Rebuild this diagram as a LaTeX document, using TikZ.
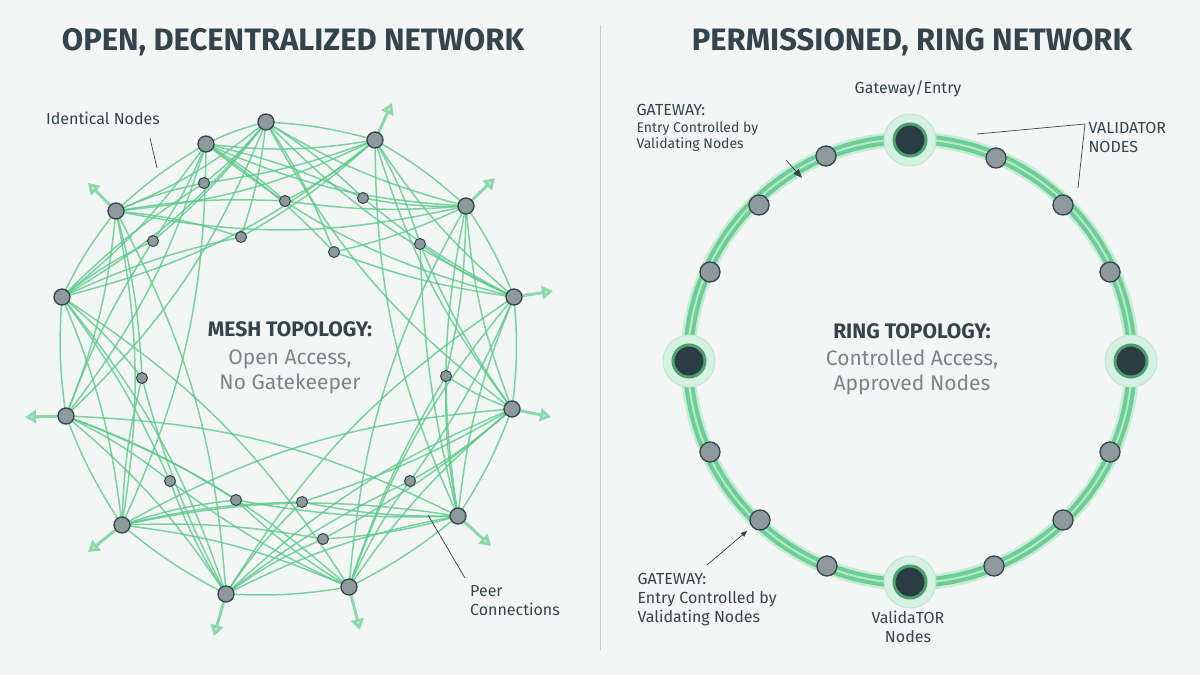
\documentclass[tikz,border=0pt]{standalone}
\usepackage{fontspec}
\setmainfont{Fira Sans}
\usetikzlibrary{arrows.meta}
\definecolor{bg}{HTML}{F3F6F5}
\definecolor{ink}{HTML}{34444C}
\definecolor{gtx}{HTML}{7B8589}
\definecolor{edge}{HTML}{5CC98A}
\definecolor{nodef}{HTML}{8E999E}
\definecolor{dark}{HTML}{2C3C43}
\begin{document}
\begin{tikzpicture}[x=1pt,y=-1pt,
  edg/.style={edge,line width=1.5pt,opacity=0.8},
  outn/.style={circle,draw=ink,line width=1.3pt,fill=nodef,minimum size=16pt,inner sep=0},
  inn/.style={circle,draw=ink,line width=1pt,fill=nodef,minimum size=11pt,inner sep=0},
  arr/.style={edge!70,line width=3pt,-{Triangle[width=13pt,length=11pt,fill=edge!35]}},
  title/.style={font=\fontsize{31}{34}\selectfont\bfseries,text=ink},
  lbl/.style={font=\fontsize{16}{19}\selectfont,text=ink,align=center},
  ringn/.style={circle,draw=ink,line width=1.3pt,fill=nodef,minimum size=20pt,inner sep=0},
  bign/.style={circle,draw=edge!80!black,line width=3pt,fill=dark,minimum size=32pt,inner sep=0},
  leader/.style={ink,line width=0.7pt}]
\fill[bg] (0,0) rectangle (1200,675);
\useasboundingbox (0,0) rectangle (1200,675);
\draw[gray!40,line width=0.8pt] (600,25) -- (600,650);
\node[title] (t1) at (293,42) {OPEN, DECENTRALIZED NETWORK};
\node[title] (t2) at (912,42) {PERMISSIONED, RING NETWORK};
% mesh
\foreach \n/\x/\y in {1/266/122,2/375/140,3/466/206,4/514/297,5/512/409,6/458/516,7/349/587,8/226/594,9/122/525,10/66/416,11/62/297,12/116/211,13/206/144}
  \coordinate (o\n) at (\x,\y);
\foreach \n/\x/\y in {1/204/183,2/285/201,3/363/198,4/153/241,5/241/237,6/334/252,7/420/244,8/142/378,9/446/376,10/170/481,11/236/500,12/302/502,13/410/481,14/323/539}
  \coordinate (i\n) at (\x,\y);
\foreach \a in {1,...,13}{
  \foreach \d/\bb in {1/6,2/-8,3/-10,4/-12}{
    \pgfmathtruncatemacro\b{mod(\a+\d-1,13)+1}
    \draw[edg] (o\a) to[bend left=\bb] (o\b);
  }}
\foreach \a/\b in {i1/o1,i1/o2,i1/o12,i1/o11,i2/o13,i2/o2,i2/o3,i2/o12,i3/o1,i3/o3,i3/o4,i3/o13,i4/o13,i4/o11,i4/o10,i4/o1,i5/o12,i5/o2,i5/o1,i5/o11,i6/o1,i6/o3,i6/o4,i6/o13,i7/o2,i7/o4,i7/o5,i7/o6,i8/o11,i8/o12,i8/o9,i8/o8,i9/o3,i9/o5,i9/o6,i9/o7,i10/o10,i10/o8,i10/o7,i10/o11,i11/o9,i11/o7,i11/o6,i11/o10,i12/o8,i12/o6,i12/o5,i12/o9,i13/o4,i13/o7,i13/o8,i13/o5,i14/o9,i14/o6,i14/o5,i14/o8}
  \draw[edg] (\a) to[bend right=6] (\b);
\foreach \n/\x/\y in {2/392/103,3/495/178,4/553/291,5/551/417,6/491/546,7/360/630,8/214/636,9/88/552,10/25/417,12/88/183}
  \draw[arr] (o\n) -- (\x,\y);
\foreach \n in {1,...,13} \node[outn] (on\n) at (o\n) {};
\foreach \n in {1,...,14} \node[inn] (in\n) at (i\n) {};
\node[lbl,font=\fontsize{21}{25}\selectfont\bfseries] (mt) at (290,329) {MESH TOPOLOGY:};
\node[lbl,font=\fontsize{21}{25}\selectfont,text=gtx] (mt2) at (290,372) {Open Access,\\No Gatekeeper};
\node[lbl] (idn) at (103,118) {Identical Nodes};
\draw[leader] (150,138) -- (157,168);
\node[lbl,align=left] (pc) at (515,601) {Peer\\Connections};
\draw[leader] (465,578) -- (428,515);
% ring
\coordinate (c) at (910,361);
\draw[edge!35,line width=15pt] (c) circle (222);
\draw[edge!90,line width=10pt] (c) circle (222);
\draw[edge!45,line width=2pt] (c) circle (222);
\foreach \a/\x/\y in {1/826/156,2/996/158,3/1063/205,4/1110/272,5/1110/452,6/1063/520,7/994/566,8/827/566,9/760/520,10/710/452,11/710/272,12/759/205}
  \node[ringn] (r\a) at (\x,\y) {};
\foreach \a/\x/\y in {1/910/140,2/1131/361,3/910/582,4/689/361}{
  \fill[edge!25] (\x,\y) circle (26);
  \draw[edge!40,line width=1pt] (\x,\y) circle (26);
  \node[bign] (b\a) at (\x,\y) {};}
\node[lbl,font=\fontsize{21}{25}\selectfont\bfseries] (rt) at (912,331) {RING TOPOLOGY:};
\node[lbl,font=\fontsize{21}{25}\selectfont,text=gtx] (rt2) at (912,372) {Controlled Access,\\Approved Nodes};
\node[lbl] (ge) at (908,89) {Gateway/Entry};
\node[lbl,align=left,anchor=north west] (g1) at (633,101) {GATEWAY:\\[-2pt]{\fontsize{14}{15}\selectfont Entry Controlled by}\\[-3pt]{\fontsize{14}{15}\selectfont Validating Nodes}};
\draw[leader,-{Triangle[width=7pt,length=9pt]}] (786,160) -- (802,178);
\node[lbl,align=left,anchor=north west] (vn) at (1085,119) {VALIDATOR\\NODES};
\draw[leader] (1085,124) -- (977,134);
\draw[leader] (1085,124) -- (1078,188);
\node[lbl,align=left,anchor=north west] (g2) at (634,570) {GATEWAY:\\Entry Controlled by\\Validating Nodes};
\draw[leader,-{Triangle[width=5pt,length=6pt]}] (707,565) -- (747,531);
\node[lbl] (vt) at (908,627) {ValidaTOR\\Nodes};
\end{tikzpicture}
\end{document}
